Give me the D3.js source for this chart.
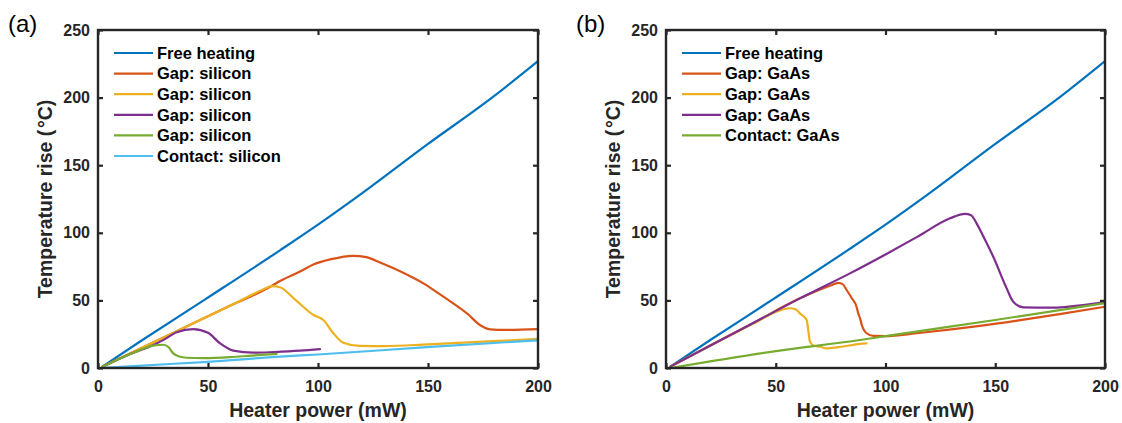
<!DOCTYPE html>
<html>
<head>
<meta charset="utf-8">
<script src="https://cdn.jsdelivr.net/npm/d3@7"></script>
<style>
  body { margin: 0; background: #fff; }
  svg { display: block; font-family: "Liberation Sans", Arial, sans-serif; }
</style>
</head>
<body>
<div id="chart"></div>
<script>
// ---- data ----
const xTicks = [0, 50, 100, 150, 200];
const yTicks = [0, 50, 100, 150, 200, 250];

// panel (a): silicon
const freeX = [2, 20, 49.4, 82.7, 100, 119, 149.4, 179.7, 200];
const freeY = [1, 20.5, 51.5, 87, 106, 128, 165, 200.7, 227];

const siGap1X = [2, 20, 40, 60, 78.9, 82.7, 91.8, 97.9, 106, 116, 122, 128.2, 138, 147.9, 155, 161.5, 168, 173.6, 178.2, 185, 200];
const siGap1Y = [1, 15, 30.5, 46, 60.6, 64.3, 71.3, 76.5, 80.5, 83, 82, 78, 71, 62.6, 55, 47.8, 40, 31.8, 28.6, 28.2, 28.8];

const siGap2X = [2, 20, 40, 60, 75, 79, 82.7, 90, 97.9, 102.4, 107, 111.5, 119, 130, 150, 175, 200];
const siGap2Y = [1, 15, 30.5, 46, 58, 60.6, 59.7, 50, 39.2, 35.5, 25.7, 18.7, 16.3, 16.2, 17.5, 19.5, 21.5];

const siGap3X = [2, 15, 25.2, 30, 35.8, 43.3, 50, 55.5, 61.5, 70.6, 80, 91.8, 100.9];
const siGap3Y = [1, 10.5, 17, 21, 26.5, 28.8, 26, 18.2, 12.8, 11.3, 11.8, 12.8, 14];

const siGap4X = [2, 15, 25, 29.7, 32, 34.2, 37, 40.3, 48, 60, 70, 81.2];
const siGap4Y = [1, 10.5, 16.5, 17.2, 15.5, 10.8, 8.5, 7.6, 7.3, 8, 9.2, 10.4];

const siContactX = [2, 20, 50, 82.7, 100, 149.4, 200];
const siContactY = [0, 1.8, 4.6, 8.4, 10, 15.4, 20.5];

// panel (b): GaAs
const gaGap1X = [2, 20, 40, 61, 75, 78.5, 80.5, 82.3, 84.5, 86.8, 87.6, 88.4, 89.2, 91.4, 94.5, 100, 114.2, 130, 143, 160, 180, 200];
const gaGap1Y = [1, 16.5, 33.5, 51.5, 61, 63, 62, 57.7, 52, 45.3, 40.4, 36.7, 31.8, 25.7, 23.7, 23.6, 25.7, 28.5, 31.1, 35, 40, 45.3];

const gaGap2X = [2, 20, 40, 50, 56.5, 59, 61, 64.1, 64.8, 65.6, 67.5, 70.2, 73.2, 78, 88.4, 91.4];
const gaGap2Y = [1, 16.5, 33, 41.5, 44.2, 43.5, 40.4, 35.5, 28, 19.5, 16.5, 15.8, 14.5, 15.3, 17.8, 18.2];

const gaGap3X = [2, 20, 40, 61, 83.8, 100, 115, 129.4, 136.2, 139, 141.5, 145, 149.1, 155.2, 158.2, 162.8, 175, 190, 200];
const gaGap3Y = [1, 16.5, 33.5, 51.5, 70, 84, 97.5, 110.7, 114, 113, 107, 96, 82.3, 58.9, 49, 44.9, 44.6, 46.5, 49];

const gaContactX = [2, 50, 88.4, 100, 150, 200];
const gaContactY = [0, 12.5, 20.7, 23.6, 35.5, 48];

const colors = ["#0072BD", "#D95319", "#EDB120", "#7E2F8E", "#77AC30", "#4DBEEE"];

const panels = [
  {
    tag: "(a)", left: 98, right: 538,
    series: [
      { name: "Free heating", x: freeX, y: freeY, color: colors[0] },
      { name: "Gap: silicon", x: siGap1X, y: siGap1Y, color: colors[1] },
      { name: "Gap: silicon", x: siGap2X, y: siGap2Y, color: colors[2] },
      { name: "Gap: silicon", x: siGap3X, y: siGap3Y, color: colors[3] },
      { name: "Gap: silicon", x: siGap4X, y: siGap4Y, color: colors[4] },
      { name: "Contact: silicon", x: siContactX, y: siContactY, color: colors[5] }
    ]
  },
  {
    tag: "(b)", left: 666, right: 1105,
    series: [
      { name: "Free heating", x: freeX, y: freeY, color: colors[0] },
      { name: "Gap: GaAs", x: gaGap1X, y: gaGap1Y, color: colors[1] },
      { name: "Gap: GaAs", x: gaGap2X, y: gaGap2Y, color: colors[2] },
      { name: "Gap: GaAs", x: gaGap3X, y: gaGap3Y, color: colors[3] },
      { name: "Contact: GaAs", x: gaContactX, y: gaContactY, color: colors[4] }
    ]
  }
];

const W = 1122, H = 423;
const plotTop = 30, plotBottom = 368;
const axisColor = "#262626";
const tickLen = 5;

const svg = d3.select("#chart").append("svg")
  .attr("width", W)
  .attr("height", H)
  .attr("viewBox", `0 0 ${W} ${H}`);

panels.forEach(p => {
  const x = d3.scaleLinear().domain([0, 200]).range([p.left, p.right]);
  const y = d3.scaleLinear().domain([0, 250]).range([plotBottom, plotTop]);
  const g = svg.append("g");

  // clip for the plot area
  const clipId = "clip-" + p.tag.replace(/\W/g, "");
  g.append("clipPath").attr("id", clipId)
    .append("rect")
    .attr("x", p.left).attr("y", plotTop)
    .attr("width", p.right - p.left).attr("height", plotBottom - plotTop);

  // data lines
  const line = d3.line()
    .x(d => x(d[0]))
    .y(d => y(d[1]))
    .curve(d3.curveMonotoneX);

  const lines = g.append("g").attr("clip-path", `url(#${clipId})`);
  p.series.forEach(s => {
    lines.append("path")
      .datum(d3.zip(s.x, s.y))
      .attr("d", line)
      .attr("fill", "none")
      .attr("stroke", s.color)
      .attr("stroke-width", 2.2)
      .attr("stroke-linejoin", "round")
      .attr("stroke-linecap", "round");
  });

  // axes: box with inward ticks on all sides
  const bottomAxis = d3.axisBottom(x).tickValues(xTicks).tickSize(-tickLen).tickPadding(13);
  const topAxis = d3.axisTop(x).tickValues(xTicks).tickSize(-tickLen).tickFormat("");
  const leftAxis = d3.axisLeft(y).tickValues(yTicks).tickSize(-tickLen).tickPadding(8);
  const rightAxis = d3.axisRight(y).tickValues(yTicks).tickSize(-tickLen).tickFormat("");

  const styleAxis = sel => {
    sel.select(".domain").remove();
    sel.selectAll(".tick line").attr("stroke", axisColor).attr("stroke-width", 2.2);
    sel.selectAll(".tick text")
      .attr("fill", axisColor)
      .style("font-size", "16px")
      .style("font-weight", "bold");
  };

  g.append("g").attr("transform", `translate(0,${plotBottom})`).call(bottomAxis).call(styleAxis);
  g.append("g").attr("transform", `translate(0,${plotTop})`).call(topAxis).call(styleAxis);
  g.append("g").attr("transform", `translate(${p.left},0)`).call(leftAxis).call(styleAxis);
  g.append("g").attr("transform", `translate(${p.right},0)`).call(rightAxis).call(styleAxis);

  g.append("rect")
    .attr("x", p.left).attr("y", plotTop)
    .attr("width", p.right - p.left).attr("height", plotBottom - plotTop)
    .attr("fill", "none")
    .attr("stroke", axisColor)
    .attr("stroke-width", 2.4);

  // axis titles
  g.append("text")
    .attr("x", (p.left + p.right) / 2)
    .attr("y", 417)
    .attr("text-anchor", "middle")
    .attr("fill", axisColor)
    .style("font-size", "19.5px")
    .style("font-weight", "bold")
    .text("Heater power (mW)");

  g.append("text")
    .attr("transform", `translate(${p.left - 46},${(plotTop + plotBottom) / 2}) rotate(-90)`)
    .attr("text-anchor", "middle")
    .attr("fill", axisColor)
    .style("font-size", "19.5px")
    .style("font-weight", "bold")
    .text("Temperature rise (\u200A\u00B0C)");

  // panel tag
  g.append("text")
    .attr("x", p.left - 90)
    .attr("y", 32)
    .attr("fill", "#000")
    .style("font-size", "24px")
    .text(p.tag);

  // legend
  const legend = g.append("g");
  p.series.forEach((s, i) => {
    const ly = 53 + i * 20.6;
    legend.append("line")
      .attr("x1", p.left + 16).attr("x2", p.left + 55)
      .attr("y1", ly).attr("y2", ly)
      .attr("stroke", s.color)
      .attr("stroke-width", 2.2);
    legend.append("text")
      .attr("x", p.left + 59)
      .attr("y", ly)
      .attr("dy", "0.35em")
      .attr("fill", "#000")
      .style("font-size", "16.5px")
      .style("font-weight", "bold")
      .text(s.name);
  });
});
</script>
</body>
</html>
